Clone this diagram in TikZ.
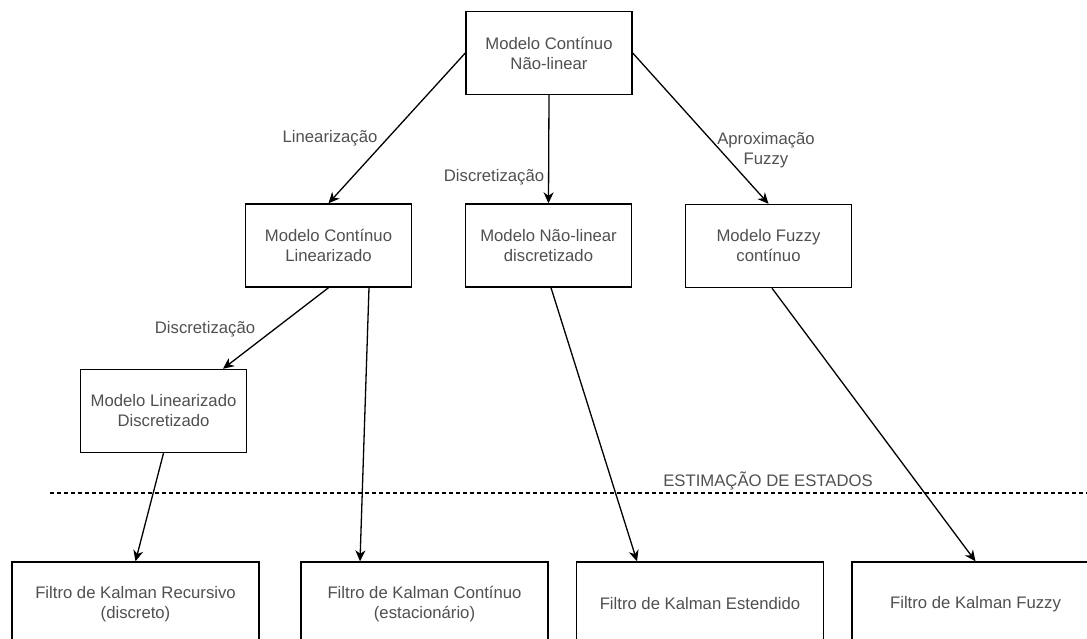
\documentclass[tikz,border=0pt]{standalone}
\usepackage{fontspec}
\setmainfont{Liberation Sans}
\usepackage{xcolor}
\usepackage{tikz}
\usetikzlibrary{arrows.meta,positioning,calc}
\definecolor{txtgray}{RGB}{80,80,80}
\tikzset{
  % caixas do diagrama
  modelbox/.style={rectangle,draw=black,line width=1.4pt,fill=white,
    minimum width=166pt,minimum height=83pt,align=center,inner sep=2pt},
  filterbox/.style={modelbox,minimum width=247pt,minimum height=84pt},
  % setas
  flow/.style={line width=1.3pt,black,-{Stealth[length=11pt,width=10pt,inset=3.5pt]}},
  % rotulos das setas
  edgelbl/.style={align=center,text=txtgray},
}

\begin{document}
\begin{tikzpicture}[
  x=1pt,y=-1pt,
  every node/.style={font=\fontsize{16.7}{20}\selectfont,text=txtgray},
]
\useasboundingbox (0,0) rectangle (1087,638);
\clip (0,0) rectangle (1087,638);

%% ===== modelos =====
\node[modelbox] (nlin)    at (549,53)    {Modelo Contínuo\\Não-linear};
\node[modelbox] (lin)     at (328.5,245.5) {Modelo Contínuo\\Linearizado};
\node[modelbox] (ndisc)   at (548.5,245.5) {Modelo Não-linear\\discretizado};
\node[modelbox] (fuz)     at (768.5,246) {Modelo Fuzzy\\contínuo};
\node[modelbox] (lindisc) at (163.5,411) {Modelo Linearizado\\Discretizado};

%% ===== filtros (cortados na borda inferior) =====
\node[filterbox] (kfr) at (135.5,604) {Filtro de Kalman Recursivo\\(discreto)};
\node[filterbox] (kfc) at (424.5,604) {Filtro de Kalman Contínuo\\(estacionário)};
\node[filterbox] (kfe) at (700,604)   {Filtro de Kalman Estendido};
\node[filterbox] (kff) at (975.5,604) {Filtro de Kalman Fuzzy};

%% ===== separador =====
\coordinate (sepL) at (50,493);
\coordinate (sepR) at (1087,493);
\draw[dashed,dash pattern=on 4pt off 3pt,line width=1.2pt] (sepL) -- (sepR);
\node[edgelbl] (lblest) at (768,481) {ESTIMAÇÃO DE ESTADOS};

%% ===== setas =====
\draw[flow] (nlin.west)  -- (lin.north);
\draw[flow] (nlin.south) -- (ndisc.north);
\draw[flow] (nlin.east)  -- (fuz.north);
\draw[flow] (lin.south)  -- ([xshift=59.5pt]lindisc.north);
\draw[flow] ([xshift=40.5pt]lin.south) -- ([xshift=-64.5pt]kfc.north);
\draw[flow] ([xshift=2.5pt]ndisc.south) -- ([xshift=-63pt]kfe.north);
\draw[flow] ([xshift=3.5pt]fuz.south) -- (kff.north);
\draw[flow] (lindisc.south) -- (kfr.north);

%% rotulos
\node[edgelbl] (lbllin)  at (330,138) {Linearização};
\node[edgelbl] (lbldsc)  at (494,177) {Discretização};
\node[edgelbl] (lblfuz)  at (766,150) {Aproximação\\Fuzzy};
\node[edgelbl] (lbldsc2) at (205,329) {Discretização};
\end{tikzpicture}
\end{document}
